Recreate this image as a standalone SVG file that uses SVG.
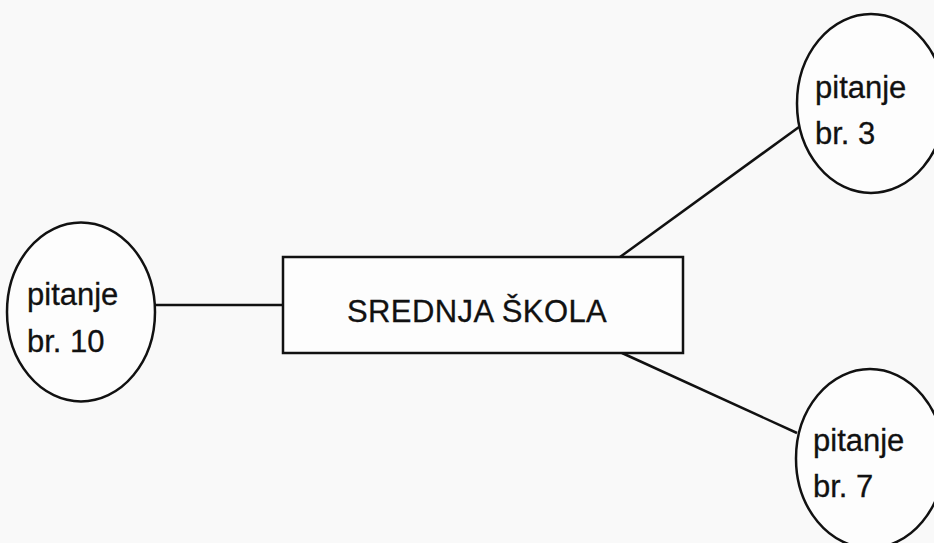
<svg xmlns="http://www.w3.org/2000/svg" width="934" height="543" viewBox="0 0 934 543">
<style>
.shape{fill:#fdfdfd;stroke:#111;stroke-width:2.5}
.conn{stroke:#111;stroke-width:2.5;fill:none}
.t{font-family:"Liberation Sans",Arial,sans-serif;font-size:31px;fill:#111;stroke:#111;stroke-width:0.3}
</style>
<rect width="934" height="543" fill="#f9f9f9"/>
<g id="connectors">
<line class="conn" x1="155" y1="305" x2="283" y2="305"/>
<line class="conn" x1="620" y1="257" x2="799" y2="127"/>
<line class="conn" x1="622" y1="353" x2="797" y2="433"/>
</g>
<g id="node-skola">
<rect class="shape" x="283" y="257" width="400" height="96"/>
<text class="t" x="347" y="322" letter-spacing="0.4">SREDNJA ŠKOLA</text>
</g>
<g id="node-10">
<ellipse class="shape" cx="81" cy="312" rx="74" ry="89.5"/>
<text class="t" x="27" y="305">pitanje</text>
<text class="t" x="27" y="352">br. 10</text>
</g>
<g id="node-3">
<ellipse class="shape" cx="871" cy="103.5" rx="74" ry="89.5"/>
<text class="t" x="815" y="98">pitanje</text>
<text class="t" x="815" y="144">br. 3</text>
</g>
<g id="node-7">
<ellipse class="shape" cx="870" cy="458.5" rx="74" ry="89.5"/>
<text class="t" x="813" y="451">pitanje</text>
<text class="t" x="813" y="497">br. 7</text>
</g>
</svg>
